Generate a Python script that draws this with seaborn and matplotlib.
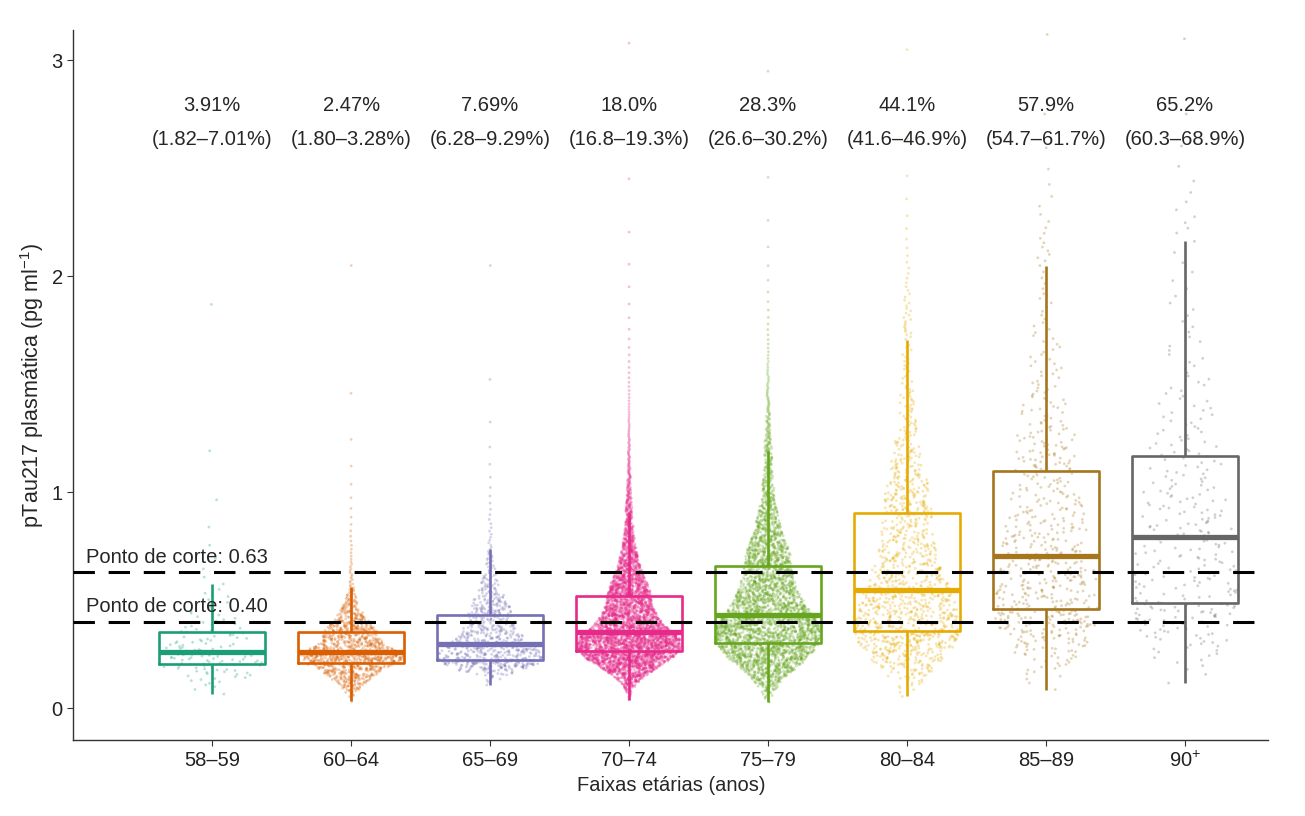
import numpy as np
import pandas as pd
import matplotlib
matplotlib.use('Agg')
import matplotlib.pyplot as plt
import seaborn as sns

# valores (pTau217, pg/ml)
grupos = ['58–59', '60–64', '65–69', '70–74', '75–79', '80–84', '85–89', '90$^{+}$']
n_pontos = [130, 1100, 750, 4500, 3500, 1200, 600, 300]
minimo = [0.065, 0.031, 0.107, 0.039, 0.028, 0.054, 0.086, 0.116]
q1 = [0.205, 0.208, 0.225, 0.264, 0.303, 0.359, 0.458, 0.488]
mediana = [0.261, 0.258, 0.299, 0.351, 0.432, 0.549, 0.706, 0.794]
q3 = [0.356, 0.351, 0.431, 0.520, 0.659, 0.903, 1.101, 1.169]
bigode_sup = [0.558, 0.555, 0.726, 0.900, 1.178, 1.727, 2.065, 2.19]
maximo = [1.87, 2.05, 2.05, 3.08, 2.95, 3.05, 3.12, 3.10]
frac_acima = [0.07, 0.03, 0.03, 0.04, 0.035, 0.03, 0.03, 0.04]

prevalencia = ['3.91%', '2.47%', '7.69%', '18.0%', '28.3%', '44.1%', '57.9%', '65.2%']
intervalo = ['(1.82–7.01%)', '(1.80–3.28%)', '(6.28–9.29%)', '(16.8–19.3%)',
             '(26.6–30.2%)', '(41.6–46.9%)', '(54.7–61.7%)', '(60.3–68.9%)']
cortes = [0.63, 0.40]

cores = sns.color_palette('Dark2', 8)
# quanto a nuvem se abre nas caudas (1 = largura proporcional à densidade)
expoente = [0.6, 1.0, 1.0, 1.0, 1.0, 0.9, 0.65, 0.6]


def logit(p):
    return np.log(p / (1 - p))


# nuvem de pontos a partir dos quantis lidos (tipo "sina")
partes = []
for i, g in enumerate(grupos):
    n = n_pontos[i]
    p = (np.arange(n) + 0.5) / n
    z = logit(p)
    nz = [z[0], logit(0.25), 0.0, logit(0.75), logit(1 - frac_acima[i]), z[-1]]
    nv = np.log([minimo[i], q1[i], mediana[i], q3[i], bigode_sup[i], maximo[i]])
    y = np.exp(np.interp(z, nz, nv))
    iqr = q3[i] - q1[i]
    bw = 0.9 * min(y.std(), iqr / 1.34) * n ** -0.2
    grade = np.linspace(y.min(), y.max(), 600)
    dg = np.exp(-0.5 * ((grade[:, None] - y[None, :]) / bw) ** 2).sum(axis=1)
    dens = np.interp(y, grade, dg)
    k = np.arange(n)
    u = (np.sin((k + 1) * 12.9898 + i * 78.233) * 43758.5453) % 1.0 * 2 - 1
    x = i + u * 0.38 * (dens / dens.max()) ** expoente[i]
    partes.append(pd.DataFrame({'grupo': g, 'pos': i, 'x': x, 'y': y}))
dados = pd.concat(partes, ignore_index=True)

sns.set_style('ticks')
plt.rcParams['font.family'] = ['Liberation Sans', 'DejaVu Sans']
plt.rcParams['mathtext.default'] = 'regular'

fig = plt.figure(figsize=(13.05, 8.16), dpi=100)
ax = fig.add_axes([0.056, 0.093, 0.916, 0.870])

sns.scatterplot(data=dados, x='x', y='y', hue='grupo', palette=cores, s=4,
                alpha=0.3, linewidth=0, legend=False, ax=ax, zorder=1)
sns.boxplot(data=dados, x='pos', y='y', hue='grupo', palette=cores, native_scale=True,
            dodge=False, width=0.76, fill=False, showfliers=False, showcaps=False,
            linewidth=1.9, medianprops={'linewidth': 3.8}, legend=False, ax=ax)

for c in cortes:
    ax.axhline(c, color='black', linewidth=2.2, linestyle=(0, (7, 4.5)), zorder=5)
    ax.text(-0.91, c + 0.025, f'Ponto de corte: {c:.2f}', fontsize=14.5,
            ha='left', va='bottom', zorder=6)

for i in range(len(grupos)):
    ax.text(i, 2.79, prevalencia[i], ha='center', va='center', fontsize=14.5)
    ax.text(i, 2.635, intervalo[i], ha='center', va='center', fontsize=14.5)

ax.set_xlim(-1, 7.6)
ax.set_ylim(-0.148, 3.14)
ax.set_xticks(range(len(grupos)))
ax.set_xticklabels(grupos, fontsize=14.5)
ax.set_yticks([0, 1, 2, 3])
ax.set_yticklabels(['0', '1', '2', '3'], fontsize=14.5)
ax.set_xlabel('Faixas etárias (anos)', fontsize=14.5)
ax.set_ylabel('pTau217 plasmática (pg ml$^{-1}$)', fontsize=15.5)
ax.tick_params(length=4, color='#333333', labelcolor='#222222')
for s in ['left', 'bottom']:
    ax.spines[s].set_color('#333333')
    ax.spines[s].set_linewidth(1)
sns.despine(ax=ax)

fig.savefig('out.png', dpi=100)
